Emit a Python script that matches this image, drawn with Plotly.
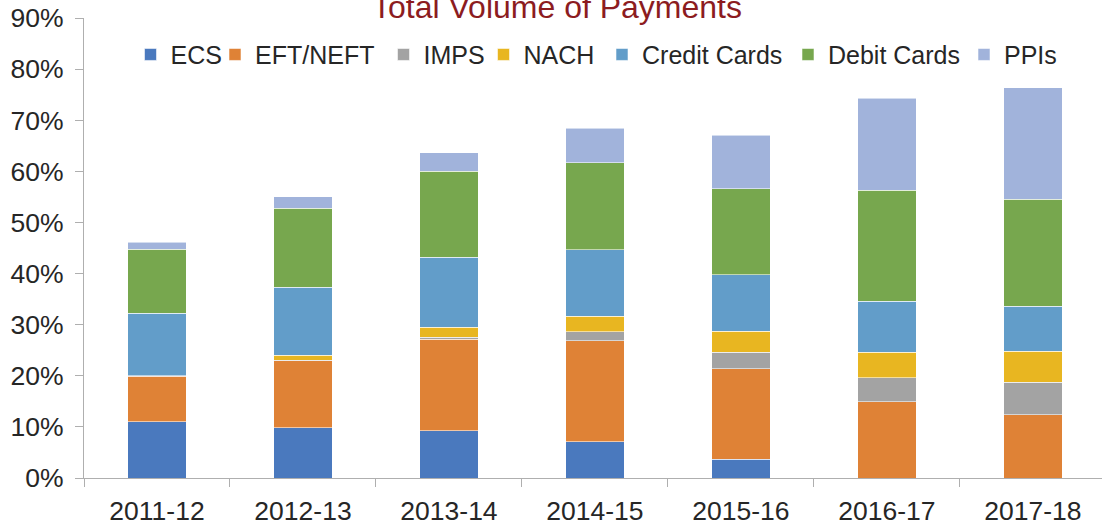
import plotly.graph_objects as go

years = ["2011-12", "2012-13", "2013-14", "2014-15", "2015-16", "2016-17", "2017-18"]

series_names = ["ECS", "EFT/NEFT", "IMPS", "NACH", "Credit Cards", "Debit Cards", "PPIs"]
ecs = [10.97, 9.8, 9.27, 7.12, 3.66, 0, 0]
eft_neft = [8.95, 13.13, 17.83, 19.72, 17.76, 14.96, 12.34]
imps = [0.06, 0.1, 0.4, 1.76, 3.14, 4.7, 6.41]
nach = [0.04, 0.94, 1.96, 3.0, 4.11, 4.96, 6.07]
credit_cards = [12.23, 13.33, 13.74, 13.1, 11.13, 9.98, 8.75]
debit_cards = [12.54, 15.5, 16.8, 17.0, 16.8, 21.7, 20.97]
ppis = [1.31, 2.25, 3.6, 6.75, 10.5, 18.0, 21.86]

y_ticks = [0, 10, 20, 30, 40, 50, 60, 70, 80, 90]

colors = ["#4A79BE", "#DF8236", "#A3A3A3", "#E8B621", "#629DC9", "#77A74E", "#A1B3DB"]
legend_widths = [39.5, 123.5, 55, 73.5, 141, 131, 60]

data = [ecs, eft_neft, imps, nach, credit_cards, debit_cards, ppis]

FONT = "Liberation Sans, Arial, Helvetica, sans-serif"
TEXT = "#262626"
AXIS = "#AFAFAF"

fig = go.Figure()
for name, vals, col, lw in zip(series_names, data, colors, legend_widths):
    fig.add_trace(go.Bar(
        x=years, y=vals, name=name,
        marker=dict(color=col, line=dict(color="rgba(255,255,255,0.55)", width=1)),
        width=0.4, legendwidth=lw,
    ))

fig.update_layout(
    width=1102, height=527,
    barmode="stack",
    plot_bgcolor="white", paper_bgcolor="white",
    margin=dict(l=84, r=0, t=18, b=49, autoexpand=False),
    font=dict(family=FONT, size=25, color=TEXT),
    showlegend=True,
    legend=dict(
        orientation="h", x=(130.5 - 84) / 1018, xanchor="left",
        y=1 - (54.7 - 18) / 460, yanchor="middle",
        bgcolor="rgba(0,0,0,0)", font=dict(family=FONT, size=25, color=TEXT),
        traceorder="normal",
    ),
    title=dict(
        text="Total Volume of Payments",
        x=557 / 1102, xref="container", xanchor="center",
        y=1 - 7 / 527, yref="container", yanchor="middle",
        font=dict(family=FONT, size=32, color="#8C1C1F"),
    ),
)

fig.update_xaxes(
    type="category", range=[-0.5, 6.473],
    showline=True, linecolor=AXIS, linewidth=1.4,
    ticks="outside", tickson="boundaries", ticklen=8, tickcolor=AXIS, tickwidth=1.4,
    showgrid=False, zeroline=False, ticklabelstandoff=9,
    tickfont=dict(family=FONT, size=26.5, color=TEXT),
)
fig.update_yaxes(
    range=[0, 90], tickvals=y_ticks, ticktext=[f"{v}%" for v in y_ticks],
    showline=True, linecolor=AXIS, linewidth=1.4,
    ticks="outside", ticklen=8, tickcolor=AXIS, tickwidth=1.4,
    showgrid=False, zeroline=False, ticklabelstandoff=6,
    tickfont=dict(family=FONT, size=26.5, color=TEXT),
)

fig.write_html(
    "out.html",
    config={"displayModeBar": False},
    post_script="document.body.style.margin='0';",
)
